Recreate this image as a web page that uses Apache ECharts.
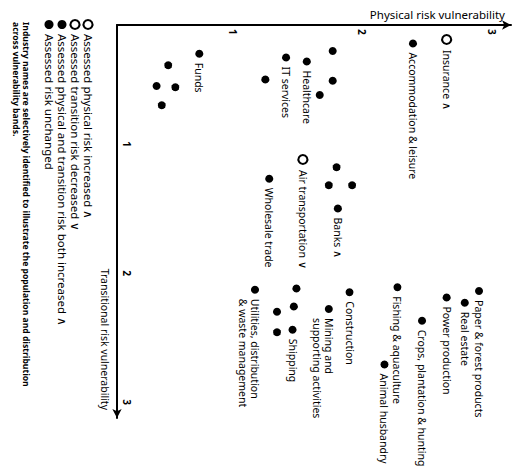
<!DOCTYPE html>
<html><head><meta charset="utf-8">
<script src="https://cdn.jsdelivr.net/npm/echarts@6/dist/echarts.min.js"></script>
<style>
html,body{margin:0;padding:0;background:#fff;overflow:hidden;width:513px;height:467px}
#chart{position:absolute;left:0;top:0;width:467px;height:513px;transform-origin:0 0;transform:translate(513px,0) rotate(90deg);}
</style></head><body><div id="chart"></div>
<script>
const industries = [
  'Funds', '', '', '', '',
  'IT services', 'Healthcare', '', '', '', '',
  'Insurance \u2227', 'Accommodation & leisure',
  'Air transportation \u2228', 'Wholesale trade', '', '', '', 'Banks \u2227',
  'Utilities, distribution\n& waste management', '', 'Construction', 'Mining and\nsupporting activities', '', '', 'Shipping', '',
  'Fishing & aquaculture', 'Power production', 'Paper & forest products', 'Real estate', 'Crops, plantation & hunting', 'Animal husbandry'
];
const transitionalRisk = [
  0.30, 0.39, 0.55, 0.56, 0.70,
  0.33, 0.36, 0.28, 0.51, 0.62, 0.50,
  0.19, 0.22,
  1.12, 1.27, 1.18, 1.32, 1.32, 1.50,
  2.13, 2.12, 2.15, 2.28, 2.26, 2.30, 2.44, 2.46,
  2.11, 2.19, 2.14, 2.23, 2.37, 2.71
];
const physicalRisk = [
  0.74, 0.50, 0.41, 0.555, 0.45,
  1.41, 1.57, 1.77, 1.77, 1.67, 1.25,
  2.65, 2.39,
  1.54, 1.28, 1.80, 1.74, 1.92, 1.81,
  1.17, 1.49, 1.90, 1.74, 1.47, 1.34, 1.46, 1.34,
  2.27, 2.65, 2.90, 2.79, 2.46, 2.17
];
const assessment = [
  'same','same','same','same','same',
  'same','same','same','same','same','same',
  'phys','same',
  'trans','same','same','same','same','both',
  'same','same','same','same','same','same','same','same',
  'same','same','same','same','same','same'
];
const statusKeys = ['phys','trans','both','same'];
const legendLabels = [
  'Assessed physical risk increased \u2227',
  'Assessed transition risk decreased \u2228',
  'Assessed physical and transition risk both increased \u2227',
  'Assessed risk unchanged'
];
const tickValues = [1, 2, 3];
const xAxisTitle = 'Transitional risk vulnerability';
const yAxisTitle = 'Physical risk vulnerability';
const noteLines = [
  'Industry names are selectively identified to illustrate the population and distribution',
  'across vulnerability bands.'
];

const FONT = 'Noto Sans';
const chart = echarts.init(document.getElementById('chart'), null, {renderer: 'svg', width: 467, height: 513});

const series = statusKeys.map((key, si) => {
  const hollow = key === 'phys' || key === 'trans';
  const data = [];
  industries.forEach((nm, i) => {
    if (assessment[i] !== key) return;
    const multi = nm.indexOf('\n') >= 0;
    data.push({
      value: [transitionalRisk[i], physicalRisk[i]],
      name: nm,
      label: {
        show: nm !== '',
        verticalAlign: multi ? 'top' : 'middle',
        offset: multi ? [0, -6] : [0, 0]
      }
    });
  });
  return {
    type: 'scatter',
    name: legendLabels[si],
    symbol: hollow ? 'emptyCircle' : 'circle',
    symbolSize: hollow ? 9 : 8,
    itemStyle: {color: '#000', borderColor: '#000', borderWidth: hollow ? 1.8 : 0, opacity: 1},
    label: {
      position: 'right', distance: 5, color: '#000', fontFamily: FONT, fontSize: 10.5,
      lineHeight: 12, formatter: p => p.name
    },
    emphasis: {disabled: true},
    data: data
  };
});

chart.setOption({
  animation: false,
  backgroundColor: '#fff',
  grid: {left: 25, right: 49, top: 2, bottom: 117, containLabel: false},
  xAxis: {
    type: 'value', min: 0.0775, max: 3.124,
    name: xAxisTitle, nameLocation: 'end', nameGap: -8,
    nameTextStyle: {align: 'right', verticalAlign: 'top', padding: [7, 0, 0, 0], color: '#000', fontFamily: FONT, fontSize: 10.5},
    axisLine: {show: true, onZero: false, symbol: ['none', 'arrow'], symbolSize: [7, 9], lineStyle: {color: '#000', width: 2}},
    axisTick: {show: false},
    splitLine: {show: false},
    axisLabel: {customValues: tickValues, inside: true, margin: 5, color: '#000', fontFamily: FONT, fontSize: 10, fontWeight: 'bold'}
  },
  yAxis: {
    type: 'value', min: 0.1044, max: 3.147,
    name: yAxisTitle, nameLocation: 'end', nameGap: -6, nameRotate: 90,
    nameTextStyle: {align: 'right', verticalAlign: 'bottom', padding: [0, 0, 5, 0], color: '#000', fontFamily: FONT, fontSize: 11.5},
    axisLine: {show: true, onZero: false, symbol: ['none', 'arrow'], symbolSize: [7, 9], lineStyle: {color: '#000', width: 2}},
    axisTick: {show: false},
    splitLine: {show: false},
    axisLabel: {customValues: tickValues, inside: true, margin: 4, color: '#000', fontFamily: FONT, fontSize: 10, fontWeight: 'bold'}
  },
  legend: {
    orient: 'vertical', left: 19, top: 419, padding: 0, itemWidth: 9, itemHeight: 9, itemGap: 1,
    selectedMode: false,
    textStyle: {color: '#000', fontFamily: FONT, fontSize: 11.5},
    data: legendLabels
  },
  graphic: noteLines.map((t, i) => ({
    type: 'text', x: 22, y: 487 + i * 10,
    style: {text: t, fill: '#000', fontFamily: FONT, fontSize: 8.6, fontWeight: 'bold', verticalAlign: 'middle'}
  })),
  series: series
});
</script></body></html>
